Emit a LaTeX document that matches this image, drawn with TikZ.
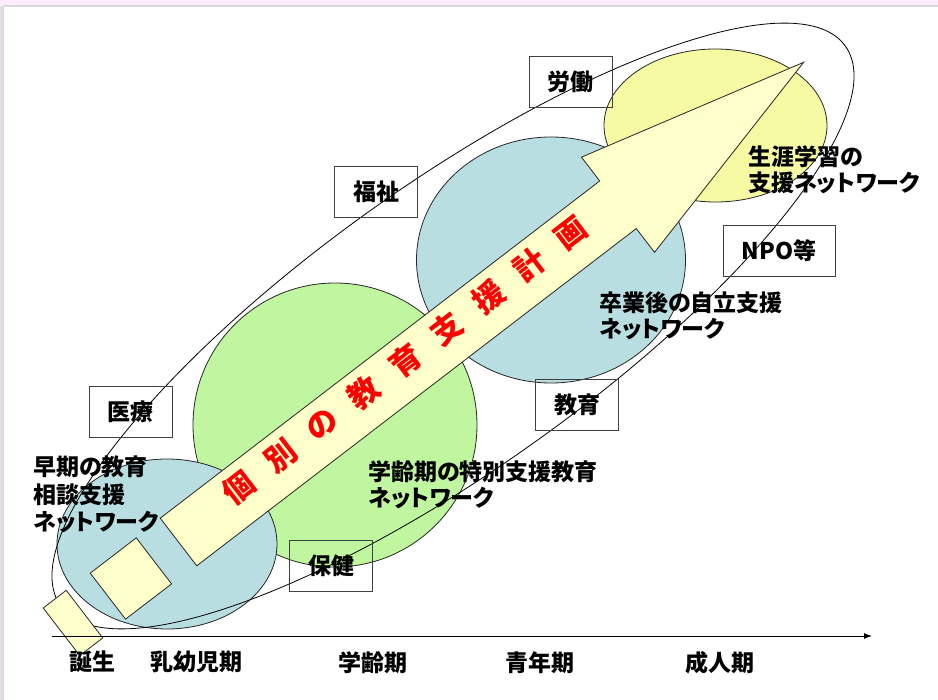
\documentclass[tikz,border=0pt]{standalone}
\usepackage{fontspec}
\newfontfamily\jp{Noto Sans CJK JP}[RawFeature=+palt]
\newfontfamily\jpfull{Noto Sans CJK JP}
\usetikzlibrary{arrows.meta}
\definecolor{lblue}{RGB}{185,222,226}
\definecolor{lgreen}{RGB}{192,246,160}
\definecolor{lyel}{RGB}{245,250,163}
\definecolor{arrfill}{RGB}{255,255,204}
\definecolor{framepink}{RGB}{252,236,252}
\definecolor{framelav}{RGB}{230,218,234}
\begin{document}
\begin{tikzpicture}[x=1pt,y=-1pt,
  bubble/.style={draw=black!85, line width=0.8pt},
  tagbox/.style={draw=black!75, line width=0.8pt, minimum width=83pt, minimum height=51pt, inner sep=0pt, font=\jp\bfseries\fontsize{23}{26}\selectfont},
  lbl/.style={font=\jp\bfseries\fontsize{23}{26.5}\selectfont, align=left, inner sep=0pt, anchor=west},
  axlbl/.style={font=\jp\bfseries\fontsize{23}{26}\selectfont, inner sep=0pt},
  redch/.style={font=\jpfull\bfseries\fontsize{31}{31}\selectfont, text=red, rotate=37.5, inner sep=0pt},
  paper/.style={fill=arrfill, draw=black!85, line width=0.8pt}]

\useasboundingbox (0,0) rectangle (938,700);
\fill[white] (0,0) rectangle (938,700);
\fill[framepink] (0,0) rectangle (938,5);
\draw[black!15, line width=1.5pt] (3,6) -- (938,6);
\fill[framelav] (0,6) rectangle (2,700);
\draw[black!15, line width=1.2pt] (3,6) -- (3,700);

% support networks
\draw[bubble, fill=lgreen] (335,425) circle [radius=142];
\draw[bubble, fill=lblue] (167,544) ellipse [x radius=110, y radius=85];
\draw[bubble, fill=lblue] (551,260) ellipse [x radius=134.5, y radius=123];
\draw[bubble, fill=lyel] (715.5,125.5) ellipse [x radius=111.5, y radius=76.5];

% outer enclosure
\draw[black, line width=0.8pt, rotate around={35.5:(453,326)}] (453,326) ellipse [x radius=482, y radius=142];

% plan arrow
\begin{scope}[shift={(178.5,542)}, rotate=37.5]
  \draw[paper] (0,-30) -- (554,-30) -- (554,-60) -- (788,0) -- (554,60) -- (554,30) -- (0,30) -- cycle;
  \draw[paper] (-89,-29) rectangle (-31,29);
  \draw[paper] (-147.5,-30) rectangle (-118.5,30);
  \foreach \c [count=\i from 0] in {個,別,の,教,育,支,援,計,画}
    \node[redch, name=ch\i] at ({81+52.35*\i},-6) {\c};
\end{scope}

% field boxes
\node[tagbox, name=roudou] at (570.5,81.5) {労働};
\node[tagbox, name=fukushi] at (376,191.5) {福祉};
\node[tagbox, name=iryou] at (130.5,411.5) {医療};
\node[tagbox, name=hoken] at (331,566) {保健};
\node[tagbox, name=kyouiku] at (577,404.5) {教育};
\node[tagbox, minimum width=112pt, name=npo] at (779,250.5) {NPO等};

% network labels
\node[lbl, font=\jp\bfseries\fontsize{23}{27.5}\selectfont, name=early] at (33,494.5) {早期の教育\\相談支援\\ネットワーク};
\node[lbl, name=school] at (368,485) {学齢期の特別支援教育\\ネットワーク};
\node[lbl, name=grad] at (599,316) {卒業後の自立支援\\ネットワーク};
\node[lbl, name=life] at (748,170) {生涯学習の\\支援ネットワーク};

% time axis
\coordinate (axL) at (52,636);
\coordinate (axR) at (872,636);
\draw[line width=1pt, -{Latex[length=8pt,width=6pt]}] (axL) -- (axR);
\node[axlbl, name=birth] at (92,662) {誕生};
\node[axlbl, name=infant] at (196,662) {乳幼児期};
\node[axlbl, name=schoolage] at (373,663) {学齢期};
\node[axlbl, name=youth] at (540,663) {青年期};
\node[axlbl, name=adult] at (720,663) {成人期};
\end{tikzpicture}
\end{document}
